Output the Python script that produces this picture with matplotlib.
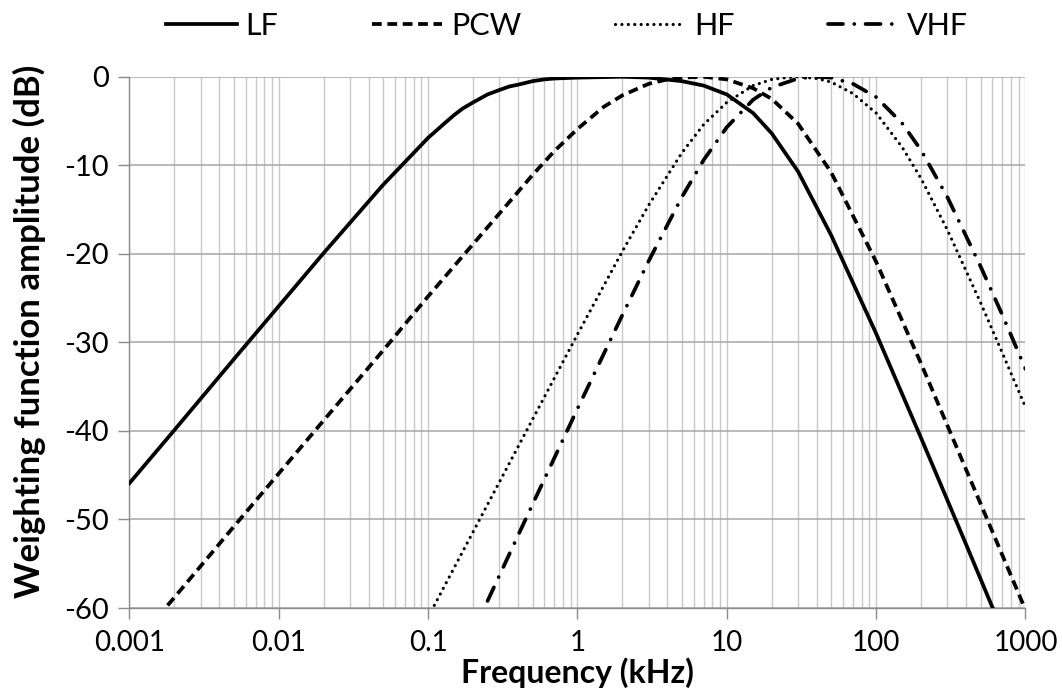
import numpy as np
import matplotlib
matplotlib.use("Agg")
import matplotlib.pyplot as plt
from matplotlib.ticker import FixedLocator, FixedFormatter, NullFormatter, LogLocator

# values (frequency in kHz, amplitude in dB)
lf_f = [0.001, 0.002, 0.005, 0.01, 0.02, 0.05, 0.1, 0.13, 0.15, 0.17, 0.2, 0.25, 0.3, 0.35,
        0.4, 0.5, 0.6, 0.7, 1, 2, 3, 5, 7, 10, 15, 20, 30, 50, 100, 200, 400, 600, 650]
lf_db = [-45.9, -39.9, -31.9, -25.9, -19.9, -12.2, -6.9, -5.2, -4.3, -3.6, -2.9, -2.0, -1.5,
         -1.1, -0.9, -0.5, -0.3, -0.2, -0.1, 0.0, -0.1, -0.5, -1.0, -2.0, -4.1, -6.4, -10.7,
         -17.9, -29.0, -40.8, -52.8, -59.9, -61.2]

pcw_f = [0.0018, 0.002, 0.005, 0.01, 0.02, 0.05, 0.1, 0.2, 0.5, 0.7, 1, 1.5, 2, 3, 4, 5,
         7, 10, 15, 20, 30, 50, 100, 200, 500, 1000]
pcw_db = [-59.7, -58.8, -50.8, -44.8, -38.8, -30.9, -24.8, -18.9, -11.1, -8.4, -5.9, -3.4,
          -2.1, -0.8, -0.3, -0.1, 0.0, -0.3, -1.3, -2.5, -5.3, -10.8, -20.9, -32.4, -48.2,
          -60.2]

hf_f = [0.11, 0.2, 0.5, 1, 2, 3, 5, 7, 10, 15, 20, 25, 30, 40, 50, 70, 100, 150, 200, 300,
        500, 700, 1000]
hf_db = [-59.7, -51.4, -38.7, -29.1, -19.7, -14.5, -8.6, -5.4, -2.9, -1.0, -0.3, -0.1, 0.0,
         -0.2, -0.6, -1.9, -4.1, -8.0, -11.5, -17.3, -25.5, -31.2, -37.3]

vhf_f = [0.25, 0.5, 1, 2, 3, 5, 7, 10, 15, 20, 30, 40, 50, 70, 100, 150, 200, 300, 500,
         700, 1000]
vhf_db = [-59.2, -48.3, -37.5, -26.9, -20.8, -13.6, -9.4, -5.7, -2.6, -1.2, -0.2, 0.0, -0.1,
          -0.8, -2.3, -5.3, -8.3, -13.6, -21.4, -26.9, -33.0]

x_ticks = [0.001, 0.01, 0.1, 1, 10, 100, 1000]
x_tick_labels = ["0.001", "0.01", "0.1", "1", "10", "100", "1000"]
y_ticks = [-60, -50, -40, -30, -20, -10, 0]

plt.rcParams["font.family"] = ["Lato", "DejaVu Sans"]
plt.rcParams["axes.unicode_minus"] = False

fig = plt.figure(figsize=(10.62, 6.9), dpi=100)
ax = fig.add_axes([0.1219, 0.1188, 0.8437, 0.770])

lw = 2.7
ax.plot(lf_f, lf_db, color="black", lw=lw, label="LF", zorder=3)
ax.plot(pcw_f, pcw_db, color="black", lw=lw, ls=(0, (2.6, 1.5)), label="PCW", zorder=3)
ax.plot(hf_f, hf_db, color="black", lw=lw * 0.85, ls=(0, (0.01, 2.0)), dash_capstyle="round",
        label="HF", zorder=3)
ax.plot(vhf_f, vhf_db, color="black", lw=lw, ls=(0, (4.0, 3.0, 0.01, 3.0)),
        dash_capstyle="round", label="VHF", zorder=3)

ax.set_xscale("log")
ax.set_xlim(0.001, 1000)
ax.set_ylim(-60, 0)

ax.xaxis.set_major_locator(FixedLocator(x_ticks))
ax.xaxis.set_major_formatter(FixedFormatter(x_tick_labels))
ax.xaxis.set_minor_locator(LogLocator(base=10, subs=np.arange(2, 10)))
ax.xaxis.set_minor_formatter(NullFormatter())
ax.set_yticks(y_ticks)

ax.grid(True, which="major", axis="y", color="#a6a6a6", lw=1.1, zorder=0)
ax.grid(True, which="both", axis="x", color="#c8c8c8", lw=1.0, zorder=0)

for s in ["top", "right"]:
    ax.spines[s].set_visible(False)
for s in ["left", "bottom"]:
    ax.spines[s].set_color("#8c8c8c")
    ax.spines[s].set_linewidth(1.0)

ax.tick_params(axis="both", which="major", direction="out", length=8, width=1.0,
               color="#8c8c8c", labelsize=21, pad=7)
ax.tick_params(axis="x", which="major", labelsize=20, pad=8)
ax.tick_params(axis="x", which="minor", length=0)

ax.set_xlabel("Frequency (kHz)", fontsize=23, fontweight="bold")
ax.xaxis.set_label_coords(0.5, -0.093)
ax.set_ylabel("Weighting function amplitude (dB)", fontsize=25, fontweight="bold")
ax.yaxis.set_label_coords(-0.093, 0.52)

fig.legend(loc="center", bbox_to_anchor=(0.534, 0.963), ncol=4, frameon=False,
           fontsize=22, handlelength=2.3, columnspacing=3.05, handletextpad=0.3)

fig.savefig("out.png", dpi=100)
